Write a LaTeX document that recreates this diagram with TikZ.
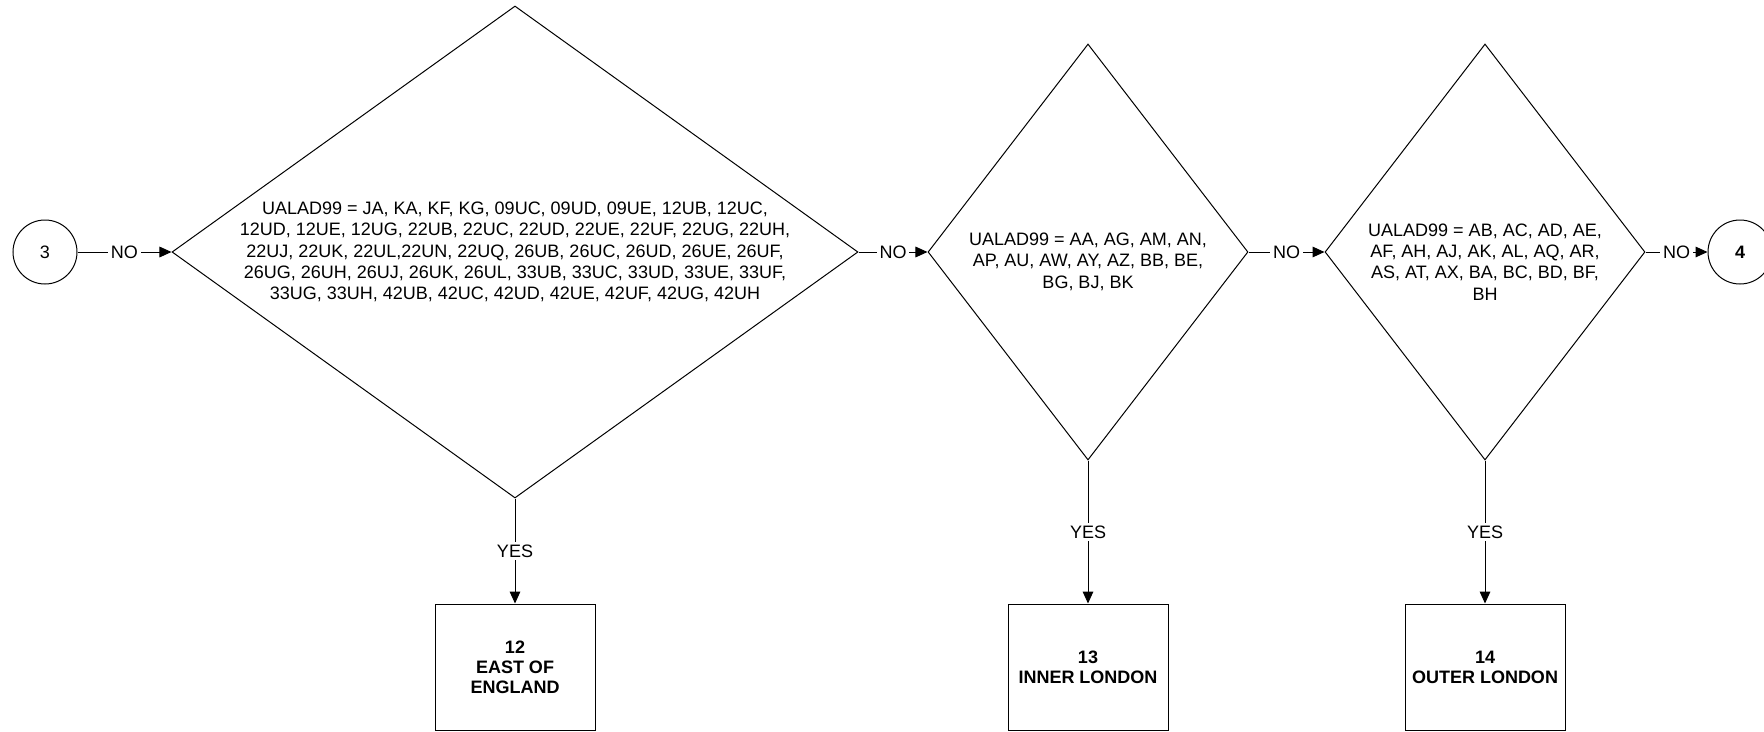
\documentclass[tikz,border=0pt]{standalone}
\usepackage{fontspec}
\setmainfont{Liberation Sans}
\usetikzlibrary{arrows.meta,shapes.geometric}

\begin{document}
\begin{tikzpicture}[x=0.75pt,y=-0.75pt,line width=0.75pt,>={Triangle[length=9pt,width=8pt]},
		every node/.style={font=\fontsize{13.5}{16}\selectfont},
		offpage/.style={circle,draw,minimum size=48pt,inner sep=0pt},
		decision/.style={diamond,draw,align=center,inner sep=-40pt},
		region/.style={rectangle,draw,align=center,minimum width=120pt,minimum height=94.5pt,
			font=\fontsize{13.5}{15}\selectfont\bfseries},
		answer/.style={fill=white,inner sep=2pt}]
		\useasboundingbox (0,0) rectangle (1764,732);
		% off-page connectors
		\node[offpage] (c3) at (45,252) {3};
		\node[offpage,font=\fontsize{13.5}{16}\selectfont\bfseries] (c4) at (1740,252) {4};
		% tests
		\node[decision,minimum width=514.5pt,minimum height=369pt] (d1) at (515,252)
			{UALAD99 = JA, KA, KF, KG, 09UC, 09UD, 09UE, 12UB, 12UC,\\
			12UD, 12UE, 12UG, 22UB, 22UC, 22UD, 22UE, 22UF, 22UG, 22UH,\\
			22UJ, 22UK, 22UL,22UN, 22UQ, 26UB, 26UC, 26UD, 26UE, 26UF,\\
			26UG, 26UH, 26UJ, 26UK, 26UL, 33UB, 33UC, 33UD, 33UE, 33UF,\\
			33UG, 33UH, 42UB, 42UC, 42UD, 42UE, 42UF, 42UG, 42UH};
		\node[decision,minimum width=240pt,minimum height=312pt] (d2) at (1088,252)
			{\rule{0pt}{24pt}UALAD99 = AA, AG, AM, AN,\\
			AP, AU, AW, AY, AZ, BB, BE,\\
			BG, BJ, BK};
		\node[decision,minimum width=240pt,minimum height=312pt] (d3) at (1485,252)
			{\rule{0pt}{24pt}UALAD99 = AB, AC, AD, AE,\\
			AF, AH, AJ, AK, AL, AQ, AR,\\
			AS, AT, AX, BA, BC, BD, BF,\\
			BH};
		% outcomes
		\node[region] (r12) at (515,667) {12\\EAST OF\\ENGLAND};
		\node[region] (r13) at (1088,667) {13\\INNER LONDON};
		\node[region] (r14) at (1485,667) {14\\OUTER LONDON};
		% NO chain
		\draw[->] (c3) -- node[answer] (n1) {NO} (d1);
		\draw[->] (d1) -- node[answer] (n2) {NO} (d2);
		\draw[->] (d2) -- node[answer] (n3) {NO} (d3);
		\draw[->] (d3) -- node[answer] (n4) {NO} (c4);
		% YES branches
		\draw[->] (d1.south) -- node[answer] (y1) {YES} (r12.north);
		\draw[->] (d2.south) -- node[answer] (y2) {YES} (r13.north);
		\draw[->] (d3.south) -- node[answer] (y3) {YES} (r14.north);
	\end{tikzpicture}
\end{document}
